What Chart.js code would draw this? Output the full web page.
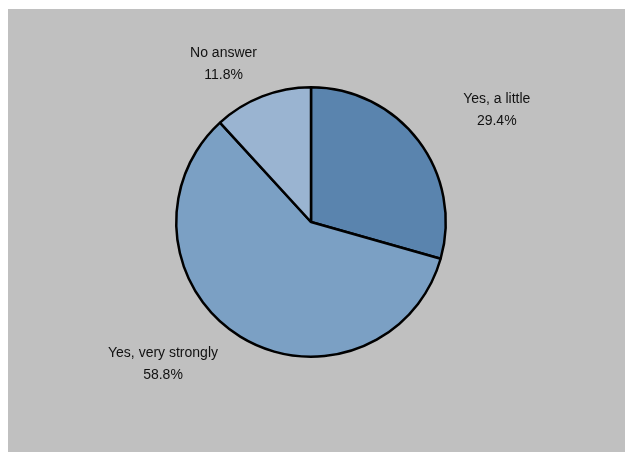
<!DOCTYPE html>
<html>
<head>
<meta charset="utf-8">
<script src="https://cdn.jsdelivr.net/npm/chart.js@4/dist/chart.umd.min.js"></script>
<style>
  html, body { margin: 0; padding: 0; background: #ffffff; }
  #wrap { width: 625px; height: 452px; position: relative; }
</style>
</head>
<body>
<div id="wrap"><canvas id="pie"></canvas></div>
<script>
const categories = ['Yes, a little', 'Yes, very strongly', 'No answer'];
const shares = [29.4, 58.8, 11.8];
const sliceColors = ['#5a84ae', '#7ba0c4', '#9ab4d1'];

// nudges for each outside label, applied after the radial anchor
const labelShift = [[46, -6], [-56, -7], [-24, 5]];

const backdrop = {
  id: 'backdrop',
  beforeDraw(chart) {
    const ctx = chart.ctx;
    ctx.save();
    ctx.fillStyle = '#c0c0c0';
    ctx.fillRect(8, 9, chart.width - 8, chart.height - 9);
    ctx.restore();
  }
};

const outsideLabels = {
  id: 'outsideLabels',
  afterDatasetsDraw(chart) {
    const ctx = chart.ctx;
    const meta = chart.getDatasetMeta(0);
    const values = chart.data.datasets[0].data;
    ctx.save();
    ctx.font = '14px "Liberation Sans", Arial, sans-serif';
    ctx.fillStyle = '#111111';
    ctx.textAlign = 'center';
    ctx.textBaseline = 'middle';
    meta.data.forEach((arc, i) => {
      const p = arc.getProps(['x', 'y', 'startAngle', 'endAngle', 'outerRadius'], true);
      const mid = (p.startAngle + p.endAngle) / 2;
      const cx = p.x + Math.cos(mid) * p.outerRadius * 1.3 + labelShift[i][0];
      const cy = p.y + Math.sin(mid) * p.outerRadius * 1.3 + labelShift[i][1];
      ctx.fillText(chart.data.labels[i], cx, cy - 11);
      ctx.fillText(values[i].toFixed(1) + '%', cx, cy + 11);
    });
    ctx.restore();
  }
};

new Chart(document.getElementById('pie').getContext('2d'), {
  type: 'pie',
  data: {
    labels: categories,
    datasets: [{
      data: shares,
      backgroundColor: sliceColors,
      borderColor: '#000000',
      borderWidth: 2.5
    }]
  },
  options: {
    responsive: true,
    maintainAspectRatio: false,
    animation: false,
    layout: { padding: { left: 175, right: 178, top: 86, bottom: 94 } },
    plugins: {
      legend: { display: false },
      tooltip: { enabled: false }
    }
  },
  plugins: [backdrop, outsideLabels]
});
</script>
</body>
</html>
